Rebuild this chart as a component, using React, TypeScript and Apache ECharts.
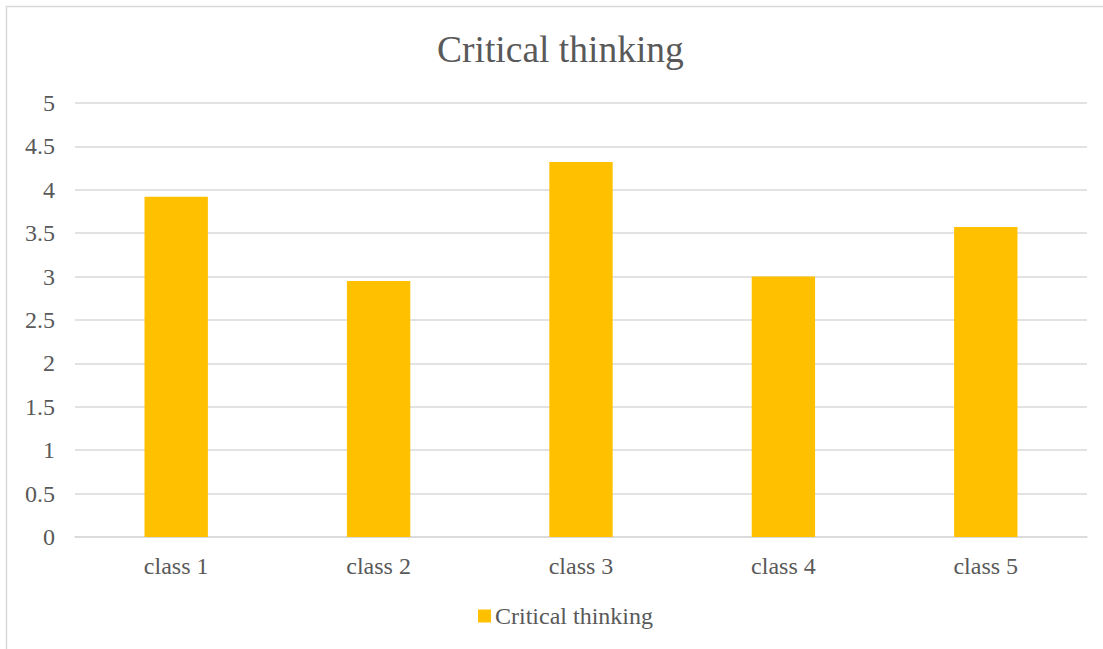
import React, { useEffect, useRef } from "react";
import * as echarts from "echarts";

const categories = ["class 1", "class 2", "class 3", "class 4", "class 5"];
const seriesName = "Critical thinking";
const values = [3.92, 2.95, 4.32, 3.0, 3.57];
const titleText = "Critical thinking";

const FONT = "Liberation Serif";
const TEXT = "#595959";
const GRID = "#D9D9D9";
const BAR = "#FFC000";

export default function App() {
  const ref = useRef<HTMLDivElement>(null);

  useEffect(() => {
    if (!ref.current) return;
    const chart = echarts.init(ref.current, undefined, { renderer: "svg" });
    chart.setOption({
      animation: false,
      backgroundColor: "#ffffff",
      textStyle: { fontFamily: FONT },
      graphic: [
        {
          type: "rect",
          shape: { x: 6.5, y: 6.5, width: 1200, height: 700 },
          style: { fill: "none", stroke: GRID, lineWidth: 1.5 },
          silent: true,
        },
      ],
      title: {
        text: titleText,
        left: 437,
        top: 30,
        padding: 0,
        textStyle: {
          fontFamily: FONT,
          fontSize: 37.5,
          fontWeight: "normal",
          color: TEXT,
        },
      },
      legend: {
        left: 478,
        top: 604,
        padding: 0,
        itemWidth: 13,
        itemHeight: 13,
        itemGap: 5,
        icon: "rect",
        data: [seriesName],
        textStyle: { fontFamily: FONT, fontSize: 24, color: TEXT, padding: [0, 0, 0, -1] },
      },
      grid: { left: 75, right: 16, top: 103, bottom: 112, containLabel: false },
      xAxis: {
        type: "category",
        data: categories,
        axisLine: { show: true, lineStyle: { color: GRID, width: 1.5 } },
        axisTick: { show: false },
        axisLabel: { fontFamily: FONT, fontSize: 24, color: TEXT, margin: 17 },
      },
      yAxis: {
        type: "value",
        min: 0,
        max: 5,
        interval: 0.5,
        axisLine: { show: false },
        axisTick: { show: false },
        splitLine: { lineStyle: { color: GRID, width: 1.5 } },
        axisLabel: { fontFamily: FONT, fontSize: 24, color: TEXT, margin: 20 },
      },
      series: [
        {
          name: seriesName,
          type: "bar",
          data: values,
          barWidth: "31.3%",
          itemStyle: { color: BAR },
        },
      ],
    });
    return () => chart.dispose();
  }, []);

  return (
    <div
      ref={ref}
      style={{ position: "fixed", left: 0, top: 0, width: 1103, height: 649 }}
    />
  );
}
